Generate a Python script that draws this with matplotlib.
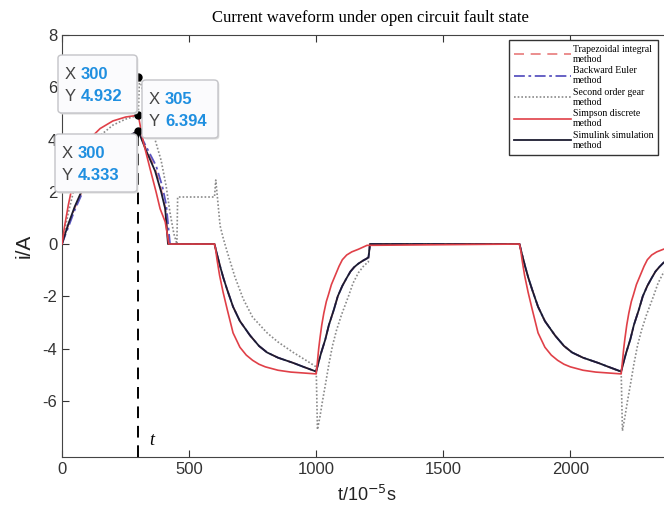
import matplotlib
matplotlib.use("Agg")
import matplotlib.pyplot as plt
from matplotlib.patches import FancyBboxPatch

plt.rcParams["axes.unicode_minus"] = False

# ---- data ----
# Simpson discrete method (red solid)
t_simp = [0, 10, 25, 40, 50, 75, 100, 125, 150, 200, 250, 300,
          320, 346, 370, 386, 400, 406, 414, 420,
          600, 605, 610, 620, 634, 650, 673, 700, 725, 750, 775, 800, 850, 900, 1000,
          1005, 1010, 1015, 1022, 1030, 1040, 1048, 1060, 1075, 1090, 1103, 1120, 1140, 1166, 1200,
          1800, 1805, 1810, 1820, 1834, 1850, 1873, 1900, 1925, 1950, 1975, 2000, 2050, 2100, 2200,
          2205, 2210, 2215, 2222, 2230, 2240, 2248, 2260, 2275, 2290, 2303, 2320, 2340, 2366, 2400]
i_simp = [0, 0.67, 1.5, 2.2, 2.56, 3.29, 3.81, 4.18, 4.42, 4.71, 4.86, 4.932,
          3.9, 2.9, 2.0, 1.35, 1.0, 0.85, 0.4, 0,
          0, -0.25, -0.6, -1.2, -1.85, -2.5, -3.4, -3.95, -4.25, -4.45, -4.6, -4.7, -4.83, -4.9, -4.97,
          -4.5, -4.0, -3.6, -3.1, -2.65, -2.2, -1.95, -1.55, -1.2, -0.85, -0.6, -0.42, -0.3, -0.2, -0.05,
          0, -0.25, -0.6, -1.2, -1.85, -2.5, -3.4, -3.95, -4.25, -4.45, -4.6, -4.7, -4.83, -4.9, -4.97,
          -4.5, -4.0, -3.6, -3.1, -2.65, -2.2, -1.95, -1.55, -1.2, -0.85, -0.6, -0.42, -0.3, -0.2, -0.1]

# Simulink simulation method (black)
t_sim = [0, 10, 25, 50, 75, 100, 150, 200, 250, 300,
         330, 366, 390, 406, 412, 417,
         600, 610, 622, 635, 650, 673, 700, 740, 775, 807, 850, 910, 950, 1000,
         1010, 1020, 1036, 1050, 1070, 1085, 1103, 1120, 1135, 1150, 1166, 1185, 1200, 1206, 1212,
         1800, 1810, 1822, 1835, 1850, 1873, 1900, 1940, 1975, 2007, 2050, 2110, 2150, 2200,
         2210, 2220, 2236, 2250, 2270, 2285, 2303, 2320, 2335, 2350, 2366, 2385, 2400]
i_sim = [0, 0.32, 0.77, 1.43, 1.98, 2.45, 3.17, 3.69, 4.07, 4.333,
         3.6, 2.8, 2.0, 1.35, 0.6, 0,
         0, -0.4, -0.85, -1.3, -1.75, -2.4, -2.95, -3.5, -3.9, -4.15, -4.35, -4.55, -4.7, -4.88,
         -4.5, -4.15, -3.65, -3.1, -2.5, -2.0, -1.6, -1.3, -1.05, -0.88, -0.75, -0.63, -0.55, -0.5, 0,
         0, -0.4, -0.85, -1.3, -1.75, -2.4, -2.95, -3.5, -3.9, -4.15, -4.35, -4.55, -4.7, -4.88,
         -4.5, -4.15, -3.65, -3.1, -2.5, -2.0, -1.6, -1.3, -1.05, -0.88, -0.72, -0.6, -0.52]

# Backward Euler method (blue dash-dot)
t_euler = [0, 10, 25, 50, 75, 100, 150, 200, 250, 300,
           330, 370, 395, 410, 418, 425,
           600, 610, 622, 635, 650, 673, 700, 740, 775, 807, 850, 910, 950, 1000,
           1010, 1020, 1036, 1050, 1070, 1085, 1103, 1120, 1135, 1150, 1166, 1185, 1200, 1206, 1212,
           1800, 1810, 1822, 1835, 1850, 1873, 1900, 1940, 1975, 2007, 2050, 2110, 2150, 2200,
           2210, 2220, 2236, 2250, 2270, 2285, 2303, 2320, 2335, 2350, 2366, 2385, 2400]
i_euler = [0, 0.27, 0.65, 1.3, 1.85, 2.35, 3.1, 3.65, 4.05, 4.333,
           3.75, 3.0, 2.2, 1.5, 0.7, 0,
           0, -0.4, -0.85, -1.3, -1.75, -2.4, -2.95, -3.5, -3.9, -4.15, -4.35, -4.55, -4.7, -4.88,
           -4.5, -4.15, -3.65, -3.1, -2.5, -2.0, -1.6, -1.3, -1.05, -0.88, -0.75, -0.63, -0.55, -0.5, 0,
           0, -0.4, -0.85, -1.3, -1.75, -2.4, -2.95, -3.5, -3.9, -4.15, -4.35, -4.55, -4.7, -4.88,
           -4.5, -4.15, -3.65, -3.1, -2.5, -2.0, -1.6, -1.3, -1.05, -0.88, -0.72, -0.6, -0.52]

# Trapezoidal integral method (red dashed)
t_trap = [0, 10, 25, 50, 75, 100, 150, 200, 250, 300,
          330, 366, 390, 406, 414, 420,
          600, 610, 622, 635, 650, 673, 700, 740, 775, 807, 850, 910, 950, 1000,
          1010, 1020, 1036, 1050, 1070, 1085, 1103, 1120, 1135, 1150, 1166, 1185, 1200, 1206, 1212,
          1800, 1810, 1822, 1835, 1850, 1873, 1900, 1940, 1975, 2007, 2050, 2110, 2150, 2200,
          2210, 2220, 2236, 2250, 2270, 2285, 2303, 2320, 2335, 2350, 2366, 2385, 2400]
i_trap = [0, 0.29, 0.72, 1.38, 1.93, 2.4, 3.13, 3.67, 4.06, 4.333,
          3.65, 2.9, 2.1, 1.4, 0.6, 0,
          0, -0.4, -0.85, -1.3, -1.75, -2.4, -2.95, -3.5, -3.9, -4.15, -4.35, -4.55, -4.7, -4.88,
          -4.5, -4.15, -3.65, -3.1, -2.5, -2.0, -1.6, -1.3, -1.05, -0.88, -0.75, -0.63, -0.55, -0.5, 0,
          0, -0.4, -0.85, -1.3, -1.75, -2.4, -2.95, -3.5, -3.9, -4.15, -4.35, -4.55, -4.7, -4.88,
          -4.5, -4.15, -3.65, -3.1, -2.5, -2.0, -1.6, -1.3, -1.05, -0.88, -0.72, -0.6, -0.52]

# Second order gear method (gray dotted)
t_gear = [0, 10, 25, 50, 75, 100, 150, 200, 250, 300, 305,
          330, 360, 390, 410, 425, 440, 452, 455, 600, 605,
          622, 635, 650, 680, 713, 750, 807, 850, 910, 960, 1000,
          1005, 1015, 1025, 1036, 1050, 1064, 1080, 1100, 1127, 1145, 1166, 1190, 1205, 1210,
          1800, 1810, 1822, 1835, 1850, 1873, 1900, 1940, 1975, 2007, 2050, 2110, 2150, 2200,
          2205, 2215, 2225, 2236, 2250, 2264, 2280, 2300, 2327, 2345, 2366, 2400]
i_gear = [0, 0.5, 1.2, 2.2, 2.9, 3.45, 4.15, 4.55, 4.78, 4.93, 6.394,
          5.3, 4.2, 3.2, 2.2, 1.2, 0.4, 0, 1.8, 1.8, 2.45,
          0.7, 0.2, -0.3, -1.25, -2.1, -2.8, -3.4, -3.75, -4.15, -4.45, -4.7,
          -7.1, -6.6, -6.0, -5.4, -4.6, -3.9, -3.3, -2.7, -2.0, -1.5, -1.1, -0.8, -0.7, 0,
          0, -0.4, -0.85, -1.3, -1.75, -2.4, -2.95, -3.5, -3.9, -4.15, -4.35, -4.55, -4.7, -4.9,
          -7.15, -6.6, -6.0, -5.4, -4.6, -3.9, -3.3, -2.7, -2.0, -1.5, -1.1, -0.8]

# data tips
mark_t = [300, 300, 300]
mark_i = [6.394, 4.932, 4.333]
tip_x = ["300", "305", "300"]
tip_y = ["4.932", "6.394", "4.333"]

x_ticks = [0, 500, 1000, 1500, 2000]
y_ticks = [-6, -4, -2, 0, 2, 4, 6, 8]

W, H = 664, 511
fig = plt.figure(figsize=(W / 100, H / 100), dpi=100)
ax = fig.add_axes([62 / W, 54 / H, 610 / W, 422 / H])

ax.plot(t_gear, i_gear, color="#8a8a8a", lw=1.2, ls=(0, (1, 1.2)), label="Second order gear\nmethod", zorder=2)
ax.plot(t_trap, i_trap, color="#e87a7a", lw=1.2, ls=(0, (6, 4)), label="Trapezoidal integral\nmethod", zorder=3)
ax.plot(t_euler, i_euler, color="#5a55c0", lw=1.3, ls=(0, (6, 2, 1.5, 2)), label="Backward Euler\nmethod", zorder=4)
ax.plot(t_sim, i_sim, color="#1c1c30", lw=1.3, label="Simulink simulation\nmethod", zorder=5)
ax.plot(t_simp, i_simp, color="#e04048", lw=1.2, label="Simpson discrete\nmethod", zorder=6)

# marker line at t
ax.vlines(mark_t[2], -8.15, mark_i[2], colors="black", linestyles=(0, (6, 4)), lw=1.4, zorder=7)
ax.plot(mark_t, mark_i, "o", color="black", ms=5, zorder=8)
ax.text(345, -7.5, "t", fontsize=13, style="italic", family="Liberation Serif", va="center")

ax.set_xlim(0, 2400)
ax.set_ylim(-8.15, 8)
ax.set_xticks(x_ticks)
ax.set_yticks(y_ticks)
ax.tick_params(direction="in", top=True, right=False, length=5, labelsize=12, colors="#333333",
               labelfontfamily="Liberation Sans")
for side in ["left", "bottom", "top"]:
    ax.spines[side].set_color("#444444")
ax.spines["right"].set_visible(False)
ax.set_xlabel("t/10$^{-5}$s", fontsize=13, family="Liberation Sans", color="#222222", labelpad=6)
ax.set_ylabel("i/A", fontsize=15, family="Liberation Sans", color="#222222", labelpad=6)

fig.text(370 / W, 1 - 18 / H, "Current waveform under open circuit fault state",
         ha="center", va="center", fontsize=12, family="Liberation Serif")

# legend in the wanted order
h, l = ax.get_legend_handles_labels()
order = [1, 2, 0, 4, 3]
leg = ax.legend([h[k] for k in order], [l[k] for k in order],
                loc="upper right", bbox_to_anchor=(658 / W, 1 - 40 / H), bbox_transform=fig.transFigure,
                borderaxespad=0, prop={"family": "Liberation Serif", "size": 7},
                handlelength=5.8, handletextpad=0.2, labelspacing=0.25, borderpad=0.5,
                fancybox=False, framealpha=1)
leg.get_frame().set_edgecolor("#333333")
leg.get_frame().set_linewidth(1.0)
for txt in leg.get_texts():
    txt.set_linespacing(1.15)


def draw_tip(x0, y0, x1, y1, xs, ys):
    # box given in pixels (top-left origin)
    shadow = FancyBboxPatch((x0 / W + 0.002, 1 - y1 / H - 0.003), (x1 - x0) / W, (y1 - y0) / H,
                            boxstyle="round,pad=0,rounding_size=0.006", transform=fig.transFigure,
                            facecolor="#dcdcdc", edgecolor="none", zorder=20)
    box = FancyBboxPatch((x0 / W, 1 - y1 / H), (x1 - x0) / W, (y1 - y0) / H,
                         boxstyle="round,pad=0,rounding_size=0.006", transform=fig.transFigure,
                         facecolor="#fbfbfd", edgecolor="#c4c4c8", lw=1.0, zorder=21)
    fig.patches.append(shadow)
    fig.patches.append(box)
    ty1 = y0 + (y1 - y0) * 0.33
    ty2 = y0 + (y1 - y0) * 0.72
    for ty, key, val in [(ty1, "X", xs), (ty2, "Y", ys)]:
        fig.text((x0 + 7) / W, 1 - ty / H, key, fontsize=12, color="#444444",
                 family="Liberation Sans", va="center", zorder=22)
        fig.text((x0 + 23) / W, 1 - ty / H, val, fontsize=12, color="#1f8fe0", fontweight="bold",
                 family="Liberation Sans", va="center", zorder=22)


draw_tip(58, 55, 137, 113, tip_x[0], tip_y[0])
draw_tip(142, 80, 218, 138, tip_x[1], tip_y[1])
draw_tip(55, 134, 137, 192, tip_x[2], tip_y[2])

fig.savefig("out.png", dpi=100)
